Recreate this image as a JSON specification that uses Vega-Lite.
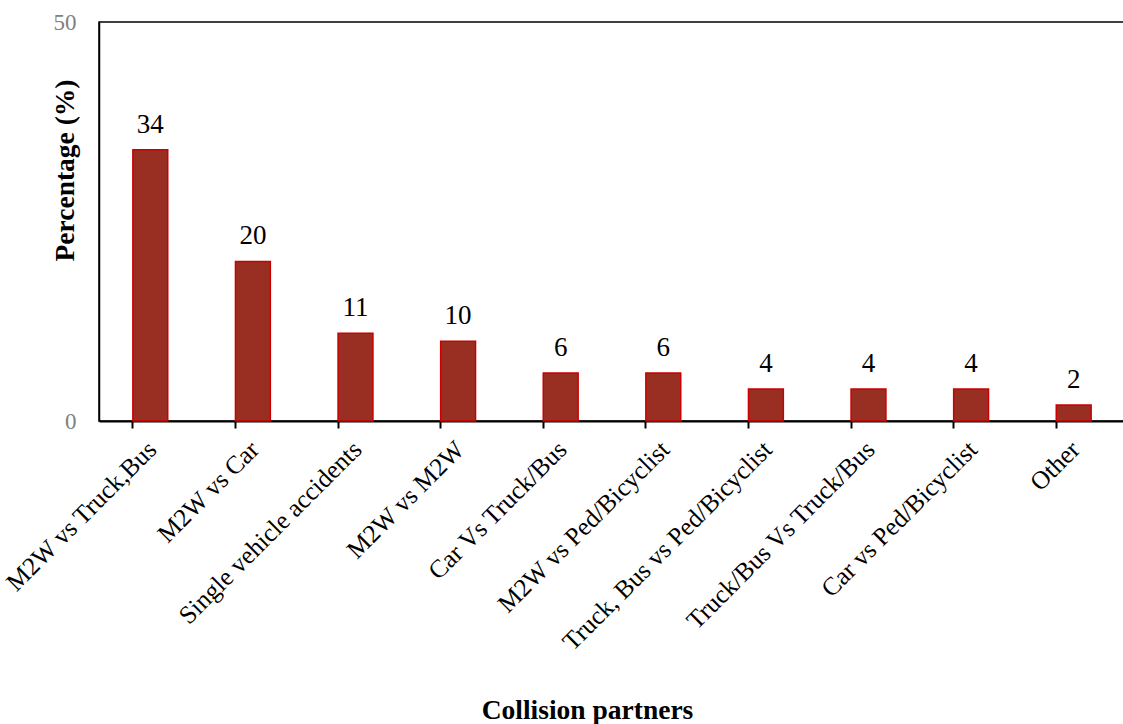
{
  "$schema": "https://vega.github.io/schema/vega-lite/v6.json",
  "width": 1026,
  "height": 399,
  "autosize": {"type": "none"},
  "padding": {"left": 99, "top": 22, "right": 0, "bottom": 303},
  "background": "white",
  "config": {"view": {"stroke": "black", "strokeWidth": 1.5}},
  "data": {
    "values": [
      {"partner": "M2W vs Truck,Bus", "pct": 34},
      {"partner": "M2W vs Car", "pct": 20},
      {"partner": "Single vehicle accidents", "pct": 11},
      {"partner": "M2W vs M2W", "pct": 10},
      {"partner": "Car Vs Truck/Bus", "pct": 6},
      {"partner": "M2W vs Ped/Bicyclist", "pct": 6},
      {"partner": "Truck, Bus vs Ped/Bicyclist", "pct": 4},
      {"partner": "Truck/Bus Vs Truck/Bus", "pct": 4},
      {"partner": "Car vs Ped/Bicyclist", "pct": 4},
      {"partner": "Other", "pct": 2}
    ]
  },
  "encoding": {
    "x": {
      "field": "partner",
      "type": "nominal",
      "sort": null,
      "scale": {"paddingInner": 0.66, "paddingOuter": 0.33},
      "axis": {
        "title": "Collision partners",
        "titleFont": "Liberation Serif",
        "titleFontSize": 27.5,
        "titleFontWeight": "bold",
        "titleColor": "black",
        "titleX": 488,
        "titleY": 297,
        "titleAlign": "center",
        "titleBaseline": "alphabetic",
        "labelAngle": -45,
        "labelAlign": "right",
        "labelBaseline": "middle",
        "labelFont": "Liberation Serif",
        "labelFontSize": 25.5,
        "labelColor": "black",
        "labelPadding": 17,
        "labelOffset": 2,
        "labelLimit": 0,
        "labelOverlap": false,
        "tickSize": 7,
        "tickColor": "black",
        "tickWidth": 2,
        "bandPosition": 0,
        "domainColor": "black",
        "domainWidth": 2,
        "grid": false
      }
    },
    "y": {
      "field": "pct",
      "type": "quantitative",
      "scale": {"domain": [0, 50]},
      "axis": {
        "title": "Percentage (%)",
        "titleFont": "Liberation Serif",
        "titleFontSize": 27.5,
        "titleFontWeight": "bold",
        "titleColor": "black",
        "titleAngle": -90,
        "titleX": -33.5,
        "titleY": 148,
        "titleAlign": "center",
        "titleBaseline": "middle",
        "values": [0, 50],
        "tickSize": 0,
        "labelPadding": 23,
        "labelFont": "Liberation Serif",
        "labelFontSize": 23,
        "labelColor": "#808080",
        "domainColor": "black",
        "domainWidth": 1.5,
        "grid": false
      }
    }
  },
  "layer": [
    {"mark": {"type": "bar", "color": "#992E22", "stroke": "#CC0000", "strokeWidth": 1.5}},
    {
      "mark": {"type": "text", "dy": -17, "baseline": "alphabetic", "font": "Liberation Serif", "fontSize": 27, "color": "black"},
      "encoding": {"text": {"field": "pct", "type": "quantitative"}}
    }
  ]
}
